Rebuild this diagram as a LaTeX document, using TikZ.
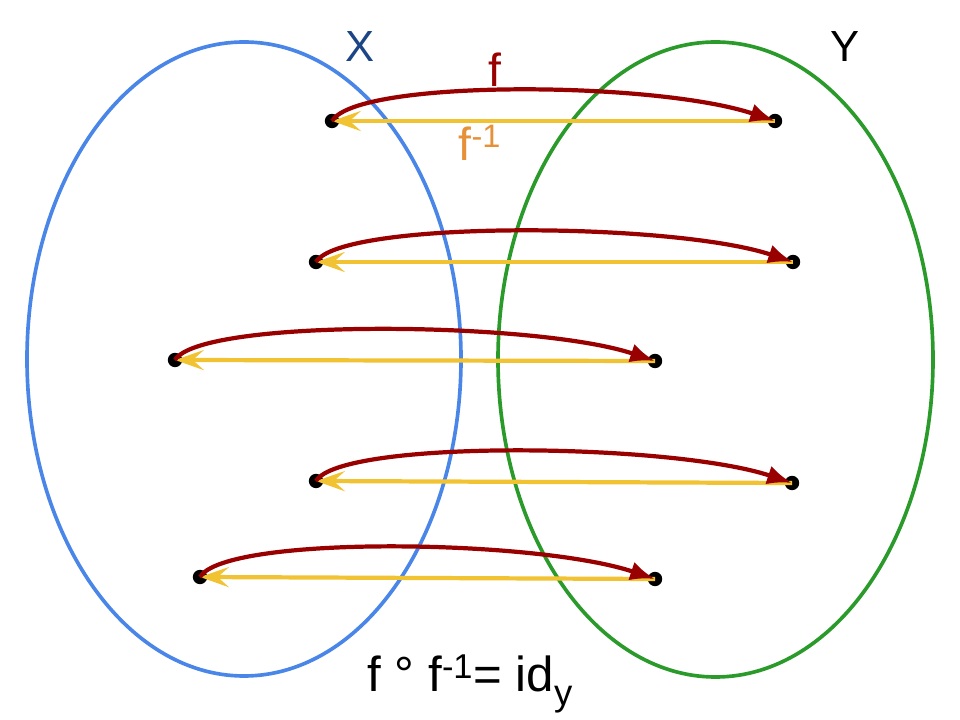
\documentclass[tikz,border=0pt]{standalone}
\usepackage{fontspec}
\setmainfont{Liberation Sans}
\usetikzlibrary{arrows.meta}
\definecolor{setblue}{HTML}{4A86E8}
\definecolor{setgreen}{HTML}{2A9A2A}
\definecolor{xlabel}{HTML}{1C4587}
\definecolor{fred}{HTML}{990000}
\definecolor{finv}{HTML}{F1C232}
\definecolor{finvlabel}{HTML}{E69138}

\begin{document}
\begin{tikzpicture}[x=0.025cm, y=-0.025cm,
	dot/.style={circle, fill=black, inner sep=0pt, minimum size=0.36cm},
	fwd/.style={line width=3pt, color=fred, -{Latex[length=0.62cm, width=0.48cm]}},
	bwd/.style={line width=3pt, color=finv, -{Stealth[length=0.72cm, width=0.5cm, inset=0.28cm]}},
	setline/.style={line width=2.6pt}]
		%%%%% START %%%%%
		\useasboundingbox (0, 0) rectangle (960, 720);
		
		\draw[setline, color=setblue] (244, 359) ellipse (217 and 317);
		\draw[setline, color=setgreen] (715.5, 359.5) ellipse (217.5 and 317.5);
		
		\node[color=xlabel, font=\fontsize{31}{31}\selectfont] (xname) at (360, 47) {X};
		\node[font=\fontsize{31}{31}\selectfont] (yname) at (845, 47) {Y};
		
		\node[dot] (x1) at (332, 121) {};
		\node[dot] (x2) at (316, 262) {};
		\node[dot] (x3) at (175, 360) {};
		\node[dot] (x4) at (316, 481) {};
		\node[dot] (x5) at (200, 577) {};
		
		\node[dot] (y1) at (775, 121) {};
		\node[dot] (y2) at (793, 262) {};
		\node[dot] (y3) at (655, 361) {};
		\node[dot] (y4) at (792, 483) {};
		\node[dot] (y5) at (655, 579) {};
		
		\draw[bwd] (y1.center) -- (x1.center);
		\draw[bwd] (y2.center) -- (x2.center);
		\draw[bwd] (y3.center) -- (x3.center);
		\draw[bwd] (y4.center) -- (x4.center);
		\draw[bwd] (y5.center) -- (x5.center);
		
		\draw[fwd] (x1.center) .. controls +(25, -42) and +(-120, -40) .. (y1.center);
		\draw[fwd] (x2.center) .. controls +(25, -42) and +(-120, -40) .. (y2.center);
		\draw[fwd] (x3.center) .. controls +(25, -42) and +(-120, -40) .. (y3.center);
		\draw[fwd] (x4.center) .. controls +(25, -42) and +(-120, -40) .. (y4.center);
		\draw[fwd] (x5.center) .. controls +(25, -42) and +(-120, -40) .. (y5.center);
		
		\node[color=fred, font=\fontsize{33}{33}\selectfont] (flab) at (495, 70) {f};
		\node[color=finvlabel, font=\fontsize{33}{33}\selectfont] (finvlab) at (480, 143) {f\textsuperscript{-1}};
		
		\node[font=\fontsize{35}{35}\selectfont] (compose) at (470, 684) {f ° f\textsuperscript{-1}= id\raisebox{-0.3em}{\fontsize{26}{26}\selectfont y}};
		
		%%%%% END %%%%%
\end{tikzpicture}
\end{document}
